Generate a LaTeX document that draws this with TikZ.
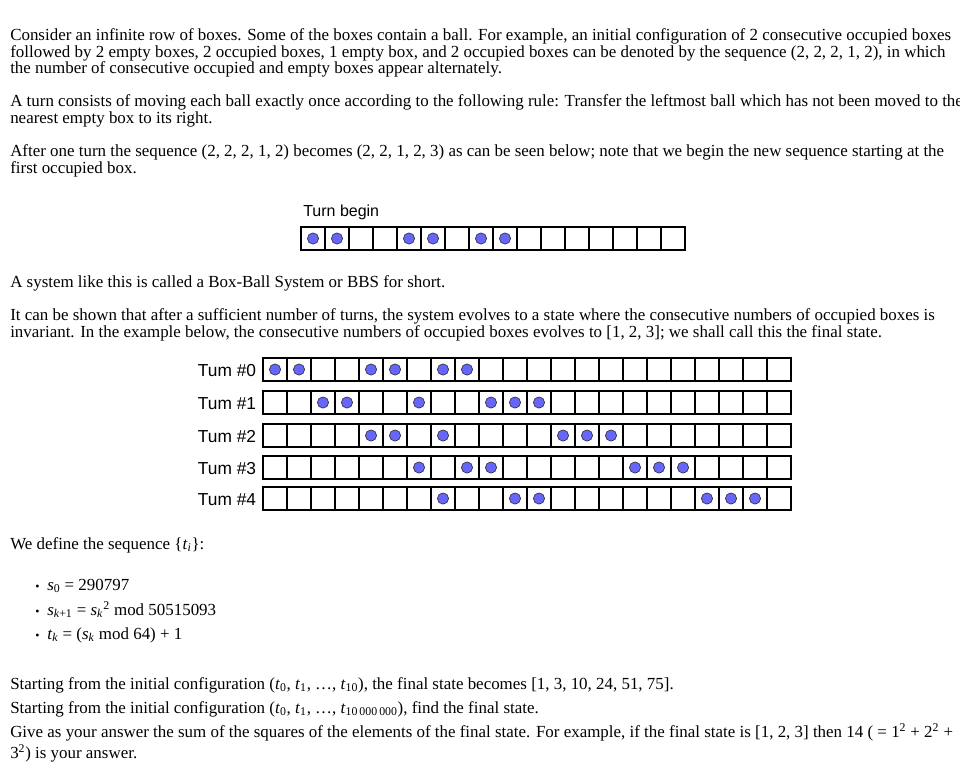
\documentclass[tikz,border=0pt]{standalone}
\usepackage{fontspec}
\setmainfont{Liberation Serif}
\newfontfamily\labelfont{Liberation Sans}
\usepackage{tikz}
\usetikzlibrary{positioning,calc}

\begin{document}
\begin{tikzpicture}[x=0.75pt, y=-0.75pt,
    txt/.style={anchor=base west, inner sep=0pt, font=\fontsize{12.7}{15}\selectfont},
    lbl/.style={inner sep=0pt, font=\labelfont\fontsize{12}{14}\selectfont},
    cell/.style={draw=black, line width=1.5pt},
    ball/.style={draw=black!80, fill=ballblue, line width=0.5pt}]
    \definecolor{ballblue}{RGB}{102,102,250}
    \useasboundingbox (0,0) rectangle (960,769);
    \clip (0,0) rectangle (960,769);

    % Intro
    \node[txt] (p1) at (10,40) {Consider an infinite row of boxes. Some of the boxes contain a ball. For example, an initial configuration of 2 consecutive occupied boxes};
    \node[txt] (p2) at (10,57) {followed by 2 empty boxes, 2 occupied boxes, 1 empty box, and 2 occupied boxes can be denoted by the sequence (2, 2, 2, 1, 2), in which};
    \node[txt] (p3) at (10,73.5) {the number of consecutive occupied and empty boxes appear alternately.};
    \node[txt] (p4) at (10,106) {A turn consists of moving each ball exactly once according to the following rule: Transfer the leftmost ball which has not been moved to the};
    \node[txt] (p5) at (10,123) {nearest empty box to its right.};
    \node[txt] (p6) at (10,156) {After one turn the sequence (2, 2, 2, 1, 2) becomes (2, 2, 1, 2, 3) as can be seen below; note that we begin the new sequence starting at the};
    \node[txt] (p7) at (10,173) {first occupied box.};

    % Turn begin
    \node[lbl, anchor=base west] (begin) at (303,216) {Turn begin};
    \foreach \i in {0,...,15}
        \draw[cell] (301+24*\i,227) rectangle ++(24,23);
    \foreach \i in {0,1,4,5,7,8}
        \draw[ball] (313+24*\i,238.5) circle (5.6);

    \node[txt] (p8) at (10,287) {A system like this is called a Box-Ball System or BBS for short.};
    \node[txt] (p9) at (10,320) {It can be shown that after a sufficient number of turns, the system evolves to a state where the consecutive numbers of occupied boxes is};
    \node[txt] (p10) at (10,337) {invariant. In the example below, the consecutive numbers of occupied boxes evolves to [1, 2, 3]; we shall call this the final state.};

    % Turns
    \foreach \n/\top/\balls in {0/358/{0,1,4,5,7,8}, 1/391/{2,3,6,9,10,11},
            2/424/{4,5,7,12,13,14}, 3/456/{6,8,9,15,16,17}, 4/487/{7,10,11,18,19,20}} {
        \coordinate (row\n) at (263,\top+13);
        \node[lbl, font=\labelfont\fontsize{13}{15}\selectfont, anchor=east, left=5pt of row\n] (turn\n) {Tum \#\n};
        \foreach \i in {0,...,21}
            \draw[cell] (263+24*\i,\top) rectangle ++(24,23);
        \foreach \i in \balls
            \draw[ball] (275+24*\i,\top+11.5) circle (5.6);
    }

    % Sequence
    \node[txt] (p11) at (10,549) {We define the sequence \{\textit{t}\textsubscript{\textit{i}}\}:};
    \foreach \y/\line in {590/{\textit{s}\textsubscript{0} = 290797},
            615/{\textit{s}\textsubscript{\textit{k}+1} = \textit{s}\textsubscript{\textit{k}}\textsuperscript{2} mod 50515093},
            639/{\textit{t}\textsubscript{\textit{k}} = (\textit{s}\textsubscript{\textit{k}} mod 64) + 1}} {
        \node[txt] at (35,\y) {\small\textbullet};
        \node[txt] at (47,\y) {\line};
    }

    % Question
    \node[txt] (p12) at (10,689) {Starting from the initial configuration (\textit{t}\textsubscript{0}, \textit{t}\textsubscript{1}, \ldots, \textit{t}\textsubscript{10}), the final state becomes [1, 3, 10, 24, 51, 75].};
    \node[txt] (p13) at (10,713) {Starting from the initial configuration (\textit{t}\textsubscript{0}, \textit{t}\textsubscript{1}, \ldots, \textit{t}\textsubscript{10\,000\,000}), find the final state.};
    \node[txt] (p14) at (10,737) {Give as your answer the sum of the squares of the elements of the final state. For example, if the final state is [1, 2, 3] then 14 ( = 1\textsuperscript{2} + 2\textsuperscript{2} +};
    \node[txt] (p15) at (10,758) {3\textsuperscript{2}) is your answer.};
\end{tikzpicture}
\end{document}
